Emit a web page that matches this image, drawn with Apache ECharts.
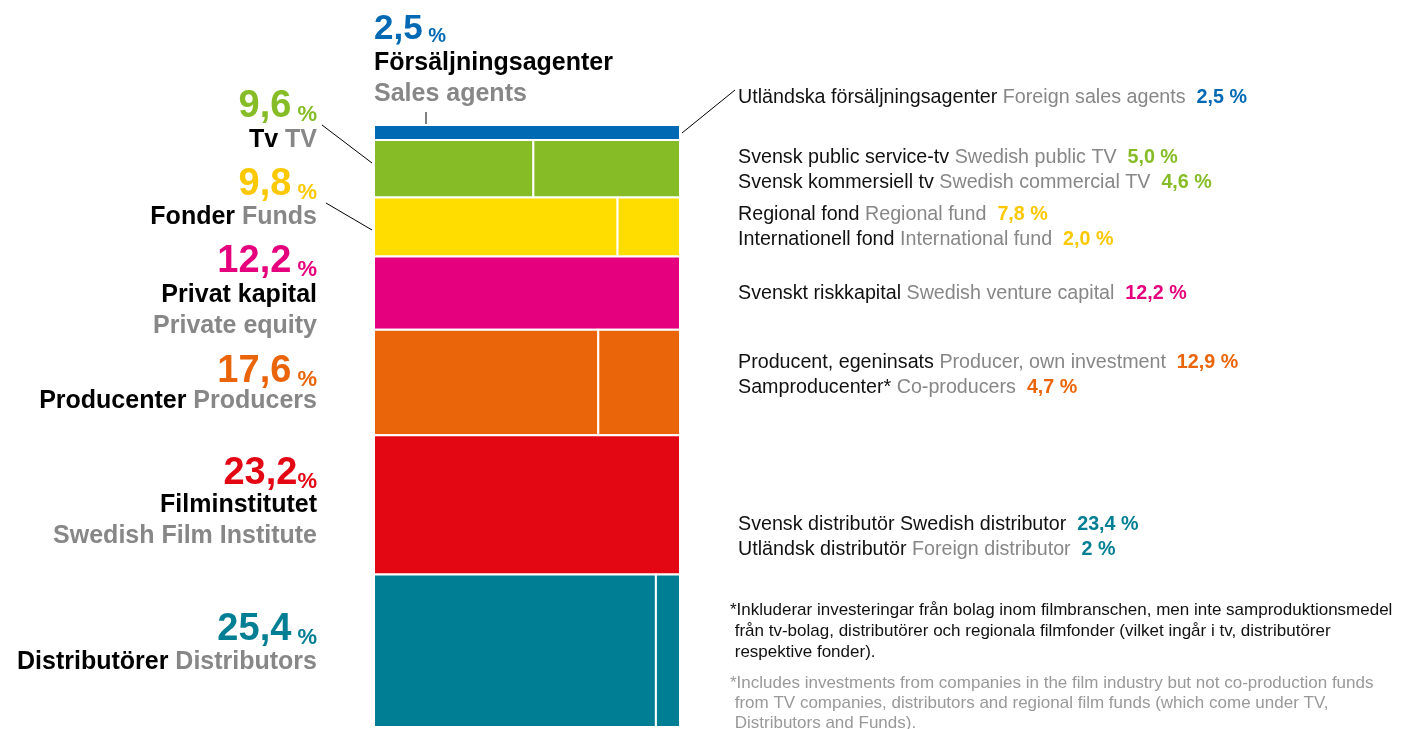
<!DOCTYPE html>
<html>
<head>
<meta charset="utf-8">
<title>Finansiering</title>
<script src="https://cdn.jsdelivr.net/npm/echarts@6/dist/echarts.min.js"></script>
<style>
  html, body { margin: 0; padding: 0; background: #fff; }
  #main { width: 1401px; height: 729px; }
</style>
</head>
<body>
<div id="main"></div>
<script>
// finansieringskällor (andel i procent), uppifrån och ned
var groupSv = ['Försäljningsagenter', 'Tv', 'Fonder', 'Privat kapital', 'Producenter', 'Filminstitutet', 'Distributörer']
var groupEn = ['Sales agents', 'TV', 'Funds', 'Private equity', 'Producers', 'Swedish Film Institute', 'Distributors']
var groupShare = [2.5, 9.6, 9.8, 12.2, 17.6, 23.2, 25.4]
var groupText = ['2,5 %', '9,6 %', '9,8 %', '12,2 %', '17,6 %', '23,2%', '25,4 %']

var subSv = [['Utländska försäljningsagenter'], ['Svensk public service-tv', 'Svensk kommersiell tv'], ['Regional fond', 'Internationell fond'], ['Svenskt riskkapital'], ['Producent, egeninsats', 'Samproducenter*'], [], ['Svensk distributör', 'Utländsk distributör']]
var subEn = [['Foreign sales agents'], ['Swedish public TV', 'Swedish commercial TV'], ['Regional fund', 'International fund'], ['Swedish venture capital'], ['Producer, own investment', 'Co-producers'], [], ['Swedish distributor', 'Foreign distributor']]
var subShare = [[2.5], [5.0, 4.6], [7.8, 2.0], [12.2], [12.9, 4.7], [23.2], [23.4, 2]]
var subText = [['2,5 %'], ['5,0 %', '4,6 %'], ['7,8 %', '2,0 %'], ['12,2 %'], ['12,9 %', '4,7 %'], [], ['23,4 %', '2 %']]

var noteSv = [
  '*Inkluderar investeringar från bolag inom filmbranschen, men inte samproduktionsmedel',
  ' från tv-bolag, distributörer och regionala filmfonder (vilket ingår i tv, distributörer',
  ' respektive fonder).'
]
var noteEn = [
  '*Includes investments from companies in the film industry but not co-production funds',
  ' from TV companies, distributors and regional film funds (which come under TV,',
  ' Distributors and Funds).'
]

// styles and text placement
var barColor = ['#0069b4', '#86bc25', '#ffdd00', '#e5007e', '#ea650a', '#e30613', '#007f94']
var textColor = ['#0069b4', '#86bc25', '#fcc800', '#e5007e', '#ea650a', '#e30613', '#007f94']
var grey = '#878787'
var font = "'Liberation Sans', Arial, Helvetica, sans-serif"
var darkEnglish = ['Swedish distributor']
var leftNumY = [29, 107, 185, 262, 372, 474, 630]
var leftNameY = [63, 140, 217, 295, 401, 505, 662]
var enOwnLine = [true, false, false, true, false, true, false]
var rightY = [98, 158, 215, 294, 363, 0, 525]

var chart = echarts.init(document.getElementById('main'))

var total = groupShare.reduce(function (a, b) { return a + b }, 0)

// en rektangel per delkälla: [x0, x1, y0, y1, grupp]
var rects = []
var yAcc = 0
groupShare.forEach(function (h, g) {
  var subs = subShare[g]
  var sum = subs.reduce(function (a, b) { return a + b }, 0)
  var xAcc = 0
  subs.forEach(function (s) {
    rects.push([xAcc / sum * 100, (xAcc + s) / sum * 100, yAcc, yAcc + h, g])
    xAcc += s
  })
  yAcc += h
})

function numRich (g) {
  var m = groupText[g].match(/^([\d,]+)(\s?%)$/)
  var big = g === 0 ? 35 : 38
  var small = g === 0 ? 20 : 22
  return {
    text: '{n|' + m[1] + '}{p|' + m[2] + '}',
    rich: {
      n: { fontSize: big, fontWeight: 'bold', fontFamily: font, fill: textColor[g], verticalAlign: 'bottom', lineHeight: big },
      p: { fontSize: small, fontWeight: 'bold', fontFamily: font, fill: textColor[g], verticalAlign: 'bottom', lineHeight: small + 6 }
    }
  }
}

var graphics = []

groupSv.forEach(function (sv, g) {
  var top = g === 0
  var x = top ? 374 : 317
  var align = top ? 'left' : 'right'
  var num = numRich(g)
  graphics.push({
    type: 'text', x: x, y: leftNumY[g],
    style: { text: num.text, rich: num.rich, align: align, verticalAlign: 'middle' }
  })
  if (enOwnLine[g]) {
    graphics.push({
      type: 'text', x: x, y: leftNameY[g],
      style: { text: sv, fontSize: 25, fontWeight: 'bold', fontFamily: font, fill: '#000', align: align, verticalAlign: 'middle' }
    })
    graphics.push({
      type: 'text', x: x, y: leftNameY[g] + 31,
      style: { text: groupEn[g], fontSize: 25, fontWeight: 'bold', fontFamily: font, fill: grey, align: align, verticalAlign: 'middle' }
    })
  } else {
    graphics.push({
      type: 'text', x: x, y: leftNameY[g],
      style: {
        text: '{a|' + sv + ' }{b|' + groupEn[g] + '}',
        rich: {
          a: { fontSize: 25, fontWeight: 'bold', fontFamily: font, fill: '#000' },
          b: { fontSize: 25, fontWeight: 'bold', fontFamily: font, fill: grey }
        },
        align: align, verticalAlign: 'middle'
      }
    })
  }

  subSv[g].forEach(function (name, i) {
    var en = subEn[g][i]
    graphics.push({
      type: 'text', x: 738, y: rightY[g] + i * 25,
      style: {
        text: '{a|' + name + ' }{b|' + en + '  }{c|' + subText[g][i] + '}',
        rich: {
          a: { fontSize: 19.7, fontFamily: font, fill: '#111' },
          b: { fontSize: 19.7, fontFamily: font, fill: darkEnglish.indexOf(en) >= 0 ? '#111' : grey },
          c: { fontSize: 19.7, fontWeight: 'bold', fontFamily: font, fill: textColor[g] }
        },
        align: 'left', verticalAlign: 'middle'
      }
    })
  })
})

noteSv.forEach(function (line, i) {
  graphics.push({
    type: 'text', x: 730, y: 610 + i * 21,
    style: { text: line, fontSize: 17, fontFamily: font, fill: '#111', align: 'left', verticalAlign: 'middle' }
  })
})
noteEn.forEach(function (line, i) {
  graphics.push({
    type: 'text', x: 730, y: 683 + i * 20,
    style: { text: line, fontSize: 17, fontFamily: font, fill: '#999', align: 'left', verticalAlign: 'middle' }
  })
})

// hänvisningslinjer
var leaders = [[426, 112, 426, 124], [322, 125, 372, 163], [326, 203, 372, 230], [682, 133, 735, 90]]
leaders.forEach(function (l) {
  graphics.push({
    type: 'line', shape: { x1: l[0], y1: l[1], x2: l[2], y2: l[3] },
    style: { stroke: '#000', lineWidth: 1 }
  })
})

chart.setOption({
  animation: false,
  backgroundColor: '#fff',
  grid: { left: 374, top: 125, width: 306, height: 602 },
  xAxis: {
    type: 'value', min: 0, max: 100,
    axisLine: { show: false }, axisTick: { show: false }, axisLabel: { show: false }, splitLine: { show: false }
  },
  yAxis: {
    type: 'value', min: 0, max: total, inverse: true,
    axisLine: { show: false }, axisTick: { show: false }, axisLabel: { show: false }, splitLine: { show: false }
  },
  series: [{
    type: 'custom',
    data: rects,
    renderItem: function (params, api) {
      var p0 = api.coord([api.value(0), api.value(2)])
      var p1 = api.coord([api.value(1), api.value(3)])
      return {
        type: 'rect',
        shape: { x: p0[0], y: p0[1], width: p1[0] - p0[0], height: p1[1] - p0[1] },
        style: { fill: barColor[api.value(4)], stroke: '#fff', lineWidth: 2 }
      }
    }
  }],
  graphic: graphics
})
</script>
</body>
</html>
